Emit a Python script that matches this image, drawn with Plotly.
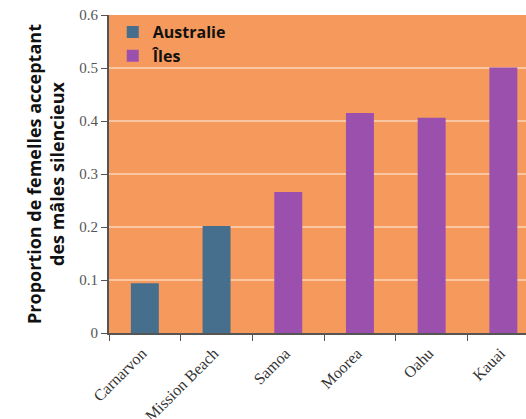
import plotly.graph_objects as go

categories = ["Carnarvon", "Mission Beach", "Samoa", "Moorea", "Oahu", "Kauai"]
australie_sites = ["Carnarvon", "Mission Beach"]
australie_values = [0.094, 0.202]
iles_sites = ["Samoa", "Moorea", "Oahu", "Kauai"]
iles_values = [0.266, 0.415, 0.406, 0.501]
y_ticks = [0, 0.1, 0.2, 0.3, 0.4, 0.5, 0.6]
y_tick_labels = ["0", "0.1", "0.2", "0.3", "0.4", "0.5", "0.6"]

fig = go.Figure()
fig.add_trace(go.Bar(x=australie_sites, y=australie_values, name="Australie",
                     marker=dict(color="#466F8E", line=dict(width=0)), width=0.39))
fig.add_trace(go.Bar(x=iles_sites, y=iles_values, name="Îles",
                     marker=dict(color="#9B50AE", line=dict(width=0)), width=0.39))

fig.update_layout(
    width=526, height=419,
    margin=dict(l=109, r=0, t=15, b=86, autoexpand=False),
    paper_bgcolor="white",
    plot_bgcolor="#F59A5C",
    barmode="overlay",
    showlegend=True,
    legend=dict(x=0.009, y=1.0, xanchor="left", yanchor="top",
                bgcolor="rgba(0,0,0,0)",
                font=dict(family="Open Sans", size=16, color="#111", weight="bold"),
                itemwidth=30, tracegroupgap=0),
    xaxis=dict(type="category", categoryorder="array", categoryarray=categories,
               tickmode="array", tickvals=categories,
               ticktext=[c + "\u00a0" for c in categories],
               range=[-0.5, 5.316], tickson="boundaries", ticks="outside",
               ticklen=6, tickcolor="#555", showgrid=False, automargin=False,
               showline=True, linecolor="#555", linewidth=2,
               tickangle=-45,
               tickfont=dict(family="Liberation Serif", size=16, color="#333")),
    yaxis=dict(range=[0, 0.6], tickvals=y_ticks, ticktext=y_tick_labels,
               ticks="outside", ticklen=6, tickcolor="#555", automargin=False,
               showline=True, linecolor="#555", linewidth=2,
               showgrid=True, gridcolor="#FBC7A2", gridwidth=1.5,
               zeroline=False,
               tickfont=dict(family="Liberation Serif", size=15, color="#555"),
               title=dict(text="Proportion de femelles acceptant<br>des mâles silencieux",
                          font=dict(family="Open Sans", size=18, color="#111", weight="bold"),
                          standoff=10)),
)

fig.write_html("out.html", config={"displayModeBar": False})

with open("out.html", "r", encoding="utf-8") as f:
    html = f.read()
html = html.replace("<body>", '<body style="margin:0;padding:0;overflow:hidden">', 1)
with open("out.html", "w", encoding="utf-8") as f:
    f.write(html)
